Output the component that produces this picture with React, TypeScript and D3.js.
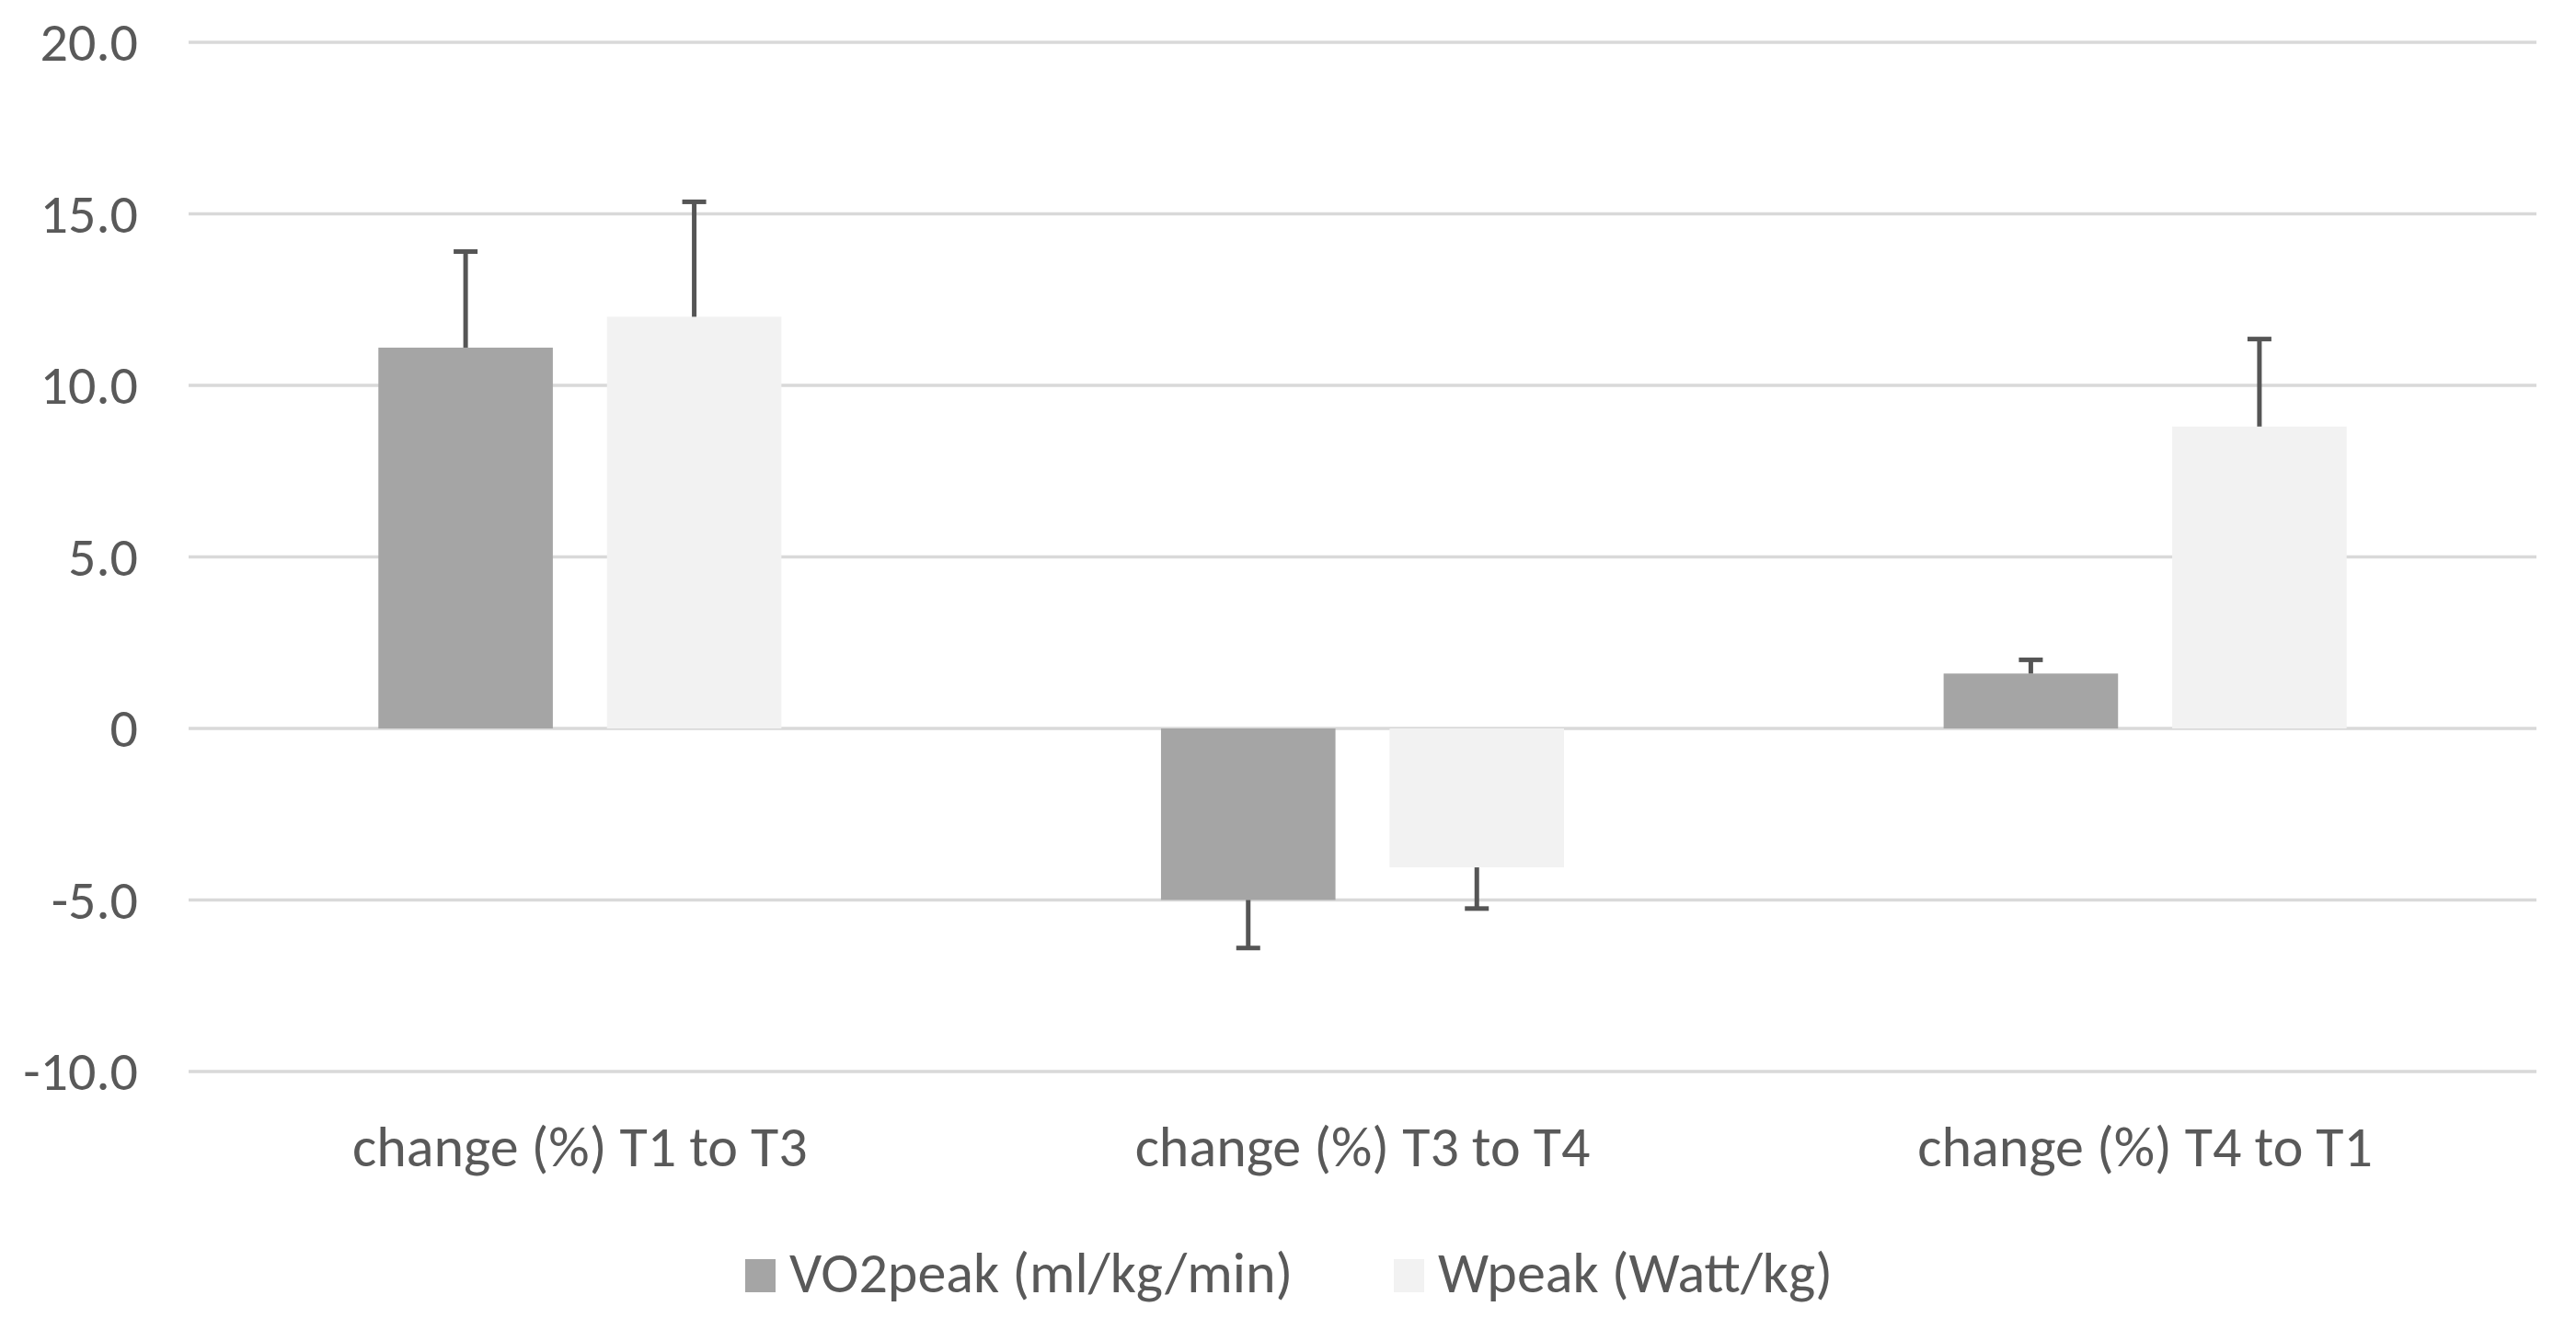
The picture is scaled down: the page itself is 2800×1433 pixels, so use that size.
import * as d3 from 'd3';

const categories = ['change (%) T1 to T3', 'change (%) T3 to T4', 'change (%) T4 to T1'];
const seriesNames = ['VO2peak (ml/kg/min)', 'Wpeak (Watt/kg)'];
const vo2Values = [11.1, -5.0, 1.6];
const vo2Errors = [2.8, 1.4, 0.4];
const wpeakValues = [12.0, -4.05, 8.8];
const wpeakErrors = [3.35, 1.2, 2.55];
const yTicks = [-10, -5, 0, 5, 10, 15, 20];

const seriesColors = ['#a5a5a5', '#f2f2f2'];
const textColor = '#595959';
const fontFamily = "Carlito, Calibri, Lato, sans-serif";

const W = 2800;
const H = 1433;

export default function App() {
    const x = d3.scaleBand().domain(categories).range([205, 2757]).paddingInner(0).paddingOuter(0);
    const y = d3.scaleLinear().domain([-10, 20]).range([1165, 46]);

    const band = x.bandwidth();
    const barW = band * 0.227;
    const gap = band * 0.061;
    const inner = d3
        .scaleBand()
        .domain(seriesNames)
        .range([band / 2 - barW - gap / 2, band / 2 + barW + gap / 2])
        .paddingInner(gap / (barW * 2 + gap) * 2)
        .paddingOuter(0);

    const series = [
        { name: seriesNames[0], values: vo2Values, errors: vo2Errors, color: seriesColors[0] },
        { name: seriesNames[1], values: wpeakValues, errors: wpeakErrors, color: seriesColors[1] },
    ];

    // Excel style: "0" for zero, hyphen for negatives
    const fmt = (v: number) => (v === 0 ? '0' : v.toFixed(1));

    return (
        <div style={{ position: 'absolute', left: 0, top: 0 }}>
            <svg width={W} height={H} viewBox={`0 0 ${W} ${H}`} style={{ display: 'block', background: '#fff' }}>
                {/* gridlines */}
                {yTicks.map(t => (
                    <line key={t} x1={x.range()[0]} x2={x.range()[1]} y1={y(t)} y2={y(t)} stroke="#d9d9d9" strokeWidth={3.5} />
                ))}
                {/* y labels */}
                {yTicks.map(t => (
                    <text
                        key={'l' + t}
                        x={150}
                        y={y(t)}
                        dy="0.34em"
                        textAnchor="end"
                        fontFamily={fontFamily}
                        fontSize={60}
                        fill={textColor}
                    >
                        {fmt(t)}
                    </text>
                ))}
                {/* bars */}
                {series.map(s =>
                    categories.map((c, i) => {
                        const v = s.values[i];
                        const bx = x(c)! + inner(s.name)!;
                        return (
                            <rect
                                key={s.name + c}
                                x={bx}
                                y={y(Math.max(0, v))}
                                width={inner.bandwidth()}
                                height={Math.abs(y(v) - y(0))}
                                fill={s.color}
                            />
                        );
                    })
                )}
                {/* error bars */}
                {series.map(s =>
                    categories.map((c, i) => {
                        const v = s.values[i];
                        const e = v >= 0 ? v + s.errors[i] : v - s.errors[i];
                        const cx = x(c)! + inner(s.name)! + inner.bandwidth() / 2;
                        return (
                            <g key={'e' + s.name + c} stroke="#555555" strokeWidth={5}>
                                <line x1={cx} x2={cx} y1={y(v)} y2={y(e)} />
                                <line x1={cx - 13} x2={cx + 13} y1={y(e)} y2={y(e)} />
                            </g>
                        );
                    })
                )}
                {/* category labels */}
                {categories.map(c => (
                    <text
                        key={'c' + c}
                        x={x(c)! + band / 2}
                        y={1268}
                        textAnchor="middle"
                        fontFamily={fontFamily}
                        fontSize={62}
                        fill={textColor}
                    >
                        {c}
                    </text>
                ))}
                {/* legend */}
                {series.map((s, i) => {
                    const lx = [810, 1515][i];
                    return (
                        <g key={'lg' + s.name}>
                            <rect x={lx} y={1369} width={33} height={36} fill={s.color} />
                            <text x={lx + 48} y={1405} fontFamily={fontFamily} fontSize={62} fill={textColor}>
                                {s.name}
                            </text>
                        </g>
                    );
                })}
            </svg>
        </div>
    );
}
